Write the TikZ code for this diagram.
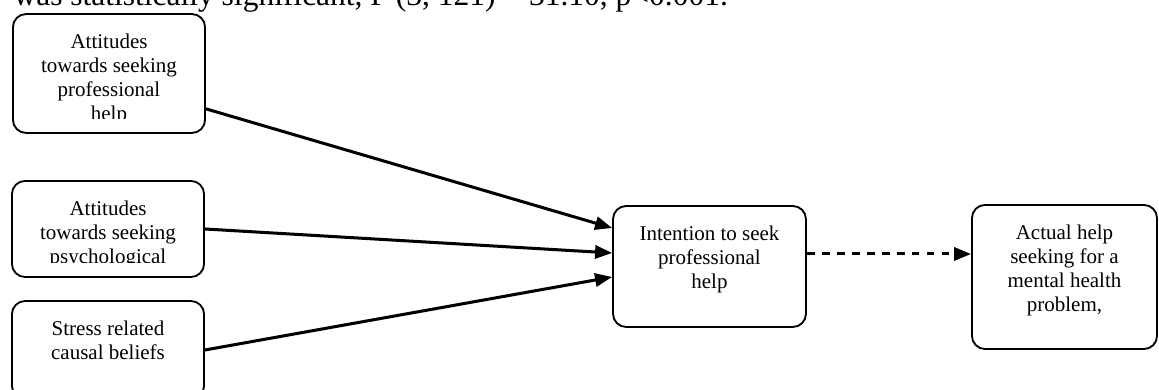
\documentclass[tikz,border=0pt]{standalone}
\usepackage{fontspec}
\setmainfont{Liberation Serif}
\usepackage{tikz}
\usetikzlibrary{math, calc, arrows.meta}

\tikzset{
  factor/.style={draw, line width=0.7pt, rounded corners=5pt, inner sep=0pt},
  boxtext/.style={anchor=north, align=center, inner sep=0pt, font=\fontsize{8}{9.15}\selectfont},
  link/.style={line width=1.15pt, -{Triangle[length=6.5pt, width=5pt]}},
}

\begin{document}
\begin{tikzpicture}[x=0.381pt, y=-0.381pt]

\tikzmath{
\cut = 15;
\gap = 20;
}

\clip (0,0) rectangle (1159,390);

\node[anchor=base west, inner sep=0pt, font=\fontsize{12}{14}\selectfont] (caption) at (13,6)
  {was statistically significant, F (3, 121) = 31.10, p<0.001.};

% predictors
\node[factor, minimum width=73.2pt, minimum height=45.3pt] (prof) at (109,73.5) {};
\node[factor, minimum width=73.2pt, minimum height=36.6pt] (psych) at (108,229) {};
\node[factor, minimum width=73.2pt, minimum height=37.3pt] (stress) at (108,350) {};

% outcomes
\node[factor, minimum width=73.5pt, minimum height=46.1pt] (intent) at (709.5,266.5) {};
\node[factor, minimum width=70.5pt, minimum height=54.9pt] (actual) at (1064.5,277) {};

\foreach \b/\t in {prof/{Attitudes\\towards seeking\\professional\\help},
                   psych/{Attitudes\\towards seeking\\psychological},
                   stress/{Stress related\\causal beliefs},
                   intent/{Intention to seek\\professional\\help},
                   actual/{Actual help\\seeking for a\\mental health\\problem,}}
{
  \begin{scope}
    \clip (\b.north west) rectangle ($(\b.south east)+(0,-\cut)$);
    \node[boxtext] (\b-text) at ($(\b.north)+(0,\gap)$) {\t};
  \end{scope}
}

\draw[link] ($(prof.south east)+(0,-25)$) -- ($(intent.west)+(0,-38.5)$);
\draw[link] (psych.east) -- ($(intent.west)+(0,-13.5)$);
\draw[link] (stress.east) -- ($(intent.west)+(0,10.5)$);
\draw[link, dash pattern=on 3pt off 2.7pt] ($(intent.east)+(0,-12.5)$) -- ($(actual.west)+(0,-23)$);

\end{tikzpicture}
\end{document}
